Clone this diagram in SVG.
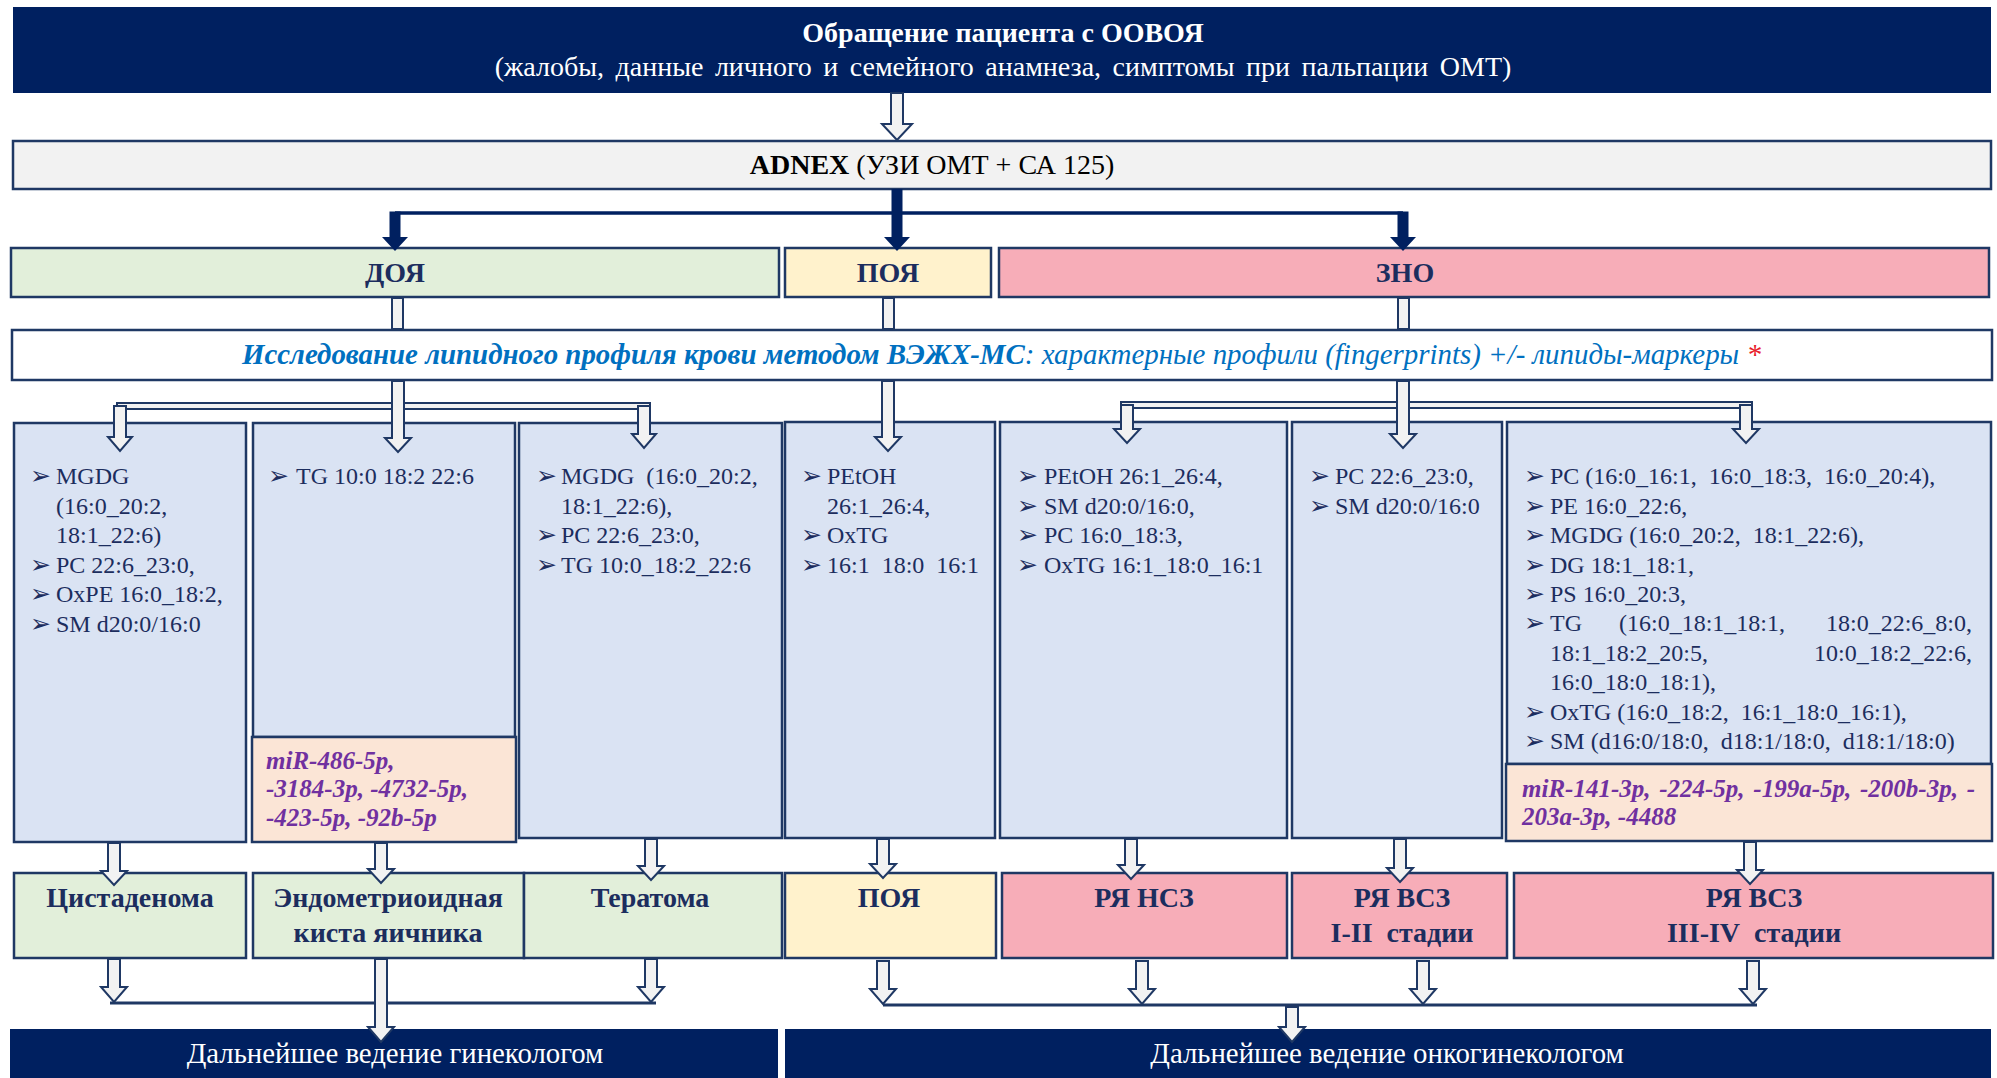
<svg xmlns="http://www.w3.org/2000/svg" width="1997" height="1078" viewBox="0 0 1997 1078">
<style>
text{font-family:"Liberation Serif","Times New Roman",serif;}
.navy{fill:#002060;}
.bx{stroke:#1f3864;stroke-width:2.5;}
.blue{fill:#dae3f3;}
.green{fill:#e2efda;}
.yellow{fill:#fff2cc;}
.pink{fill:#f7adb8;}
.peach{fill:#fbe5d6;}
.grey{fill:#f2f2f2;}
.white{fill:#ffffff;}
.t28w{font-size:28.8px;fill:#ffffff;}
.hd{font-size:28px;font-weight:bold;fill:#1c2d5e;text-anchor:middle;}
.lp{font-size:24px;fill:#1c2d5e;}
.bul{font-family:"DejaVu Sans",sans-serif;font-size:25px;fill:#1c2d5e;}
.mir{font-size:25px;font-weight:bold;font-style:italic;fill:#7030a0;}
.hol{fill:#f2f2f2;stroke:#1f3864;stroke-width:2;stroke-linejoin:miter;}
.ln{stroke:#1f3864;stroke-width:3;fill:none;}
</style>

<g id="start">
<rect x="13" y="7" width="1978" height="86" class="navy"/>
<text x="1003" y="42" font-size="28" fill="#ffffff" font-weight="bold" text-anchor="middle">Обращение пациента с ООВОЯ</text>
<text x="1003" y="76" font-size="28" fill="#ffffff" text-anchor="middle" word-spacing="4.5">(жалобы, данные личного и семейного анамнеза, симптомы при пальпации ОМТ)</text>
</g>

<g id="adnex">
<rect x="13" y="141" width="1978" height="48" class="grey bx"/>
<text x="932" y="174" font-size="28" fill="#000" text-anchor="middle"><tspan font-weight="bold">ADNEX</tspan> (УЗИ ОМТ + СА 125)</text>
</g>

<g id="doya">
<rect x="11" y="248" width="768" height="49" class="green bx"/>
<text x="395" y="282" class="hd">ДОЯ</text>
</g>
<g id="poya">
<rect x="785" y="248" width="206" height="49" class="yellow bx"/>
<text x="888" y="282" class="hd">ПОЯ</text>
</g>
<g id="zno">
<rect x="999" y="248" width="990" height="49" class="pink bx"/>
<text x="1405" y="282" class="hd">ЗНО</text>
</g>

<g id="lipid">
<rect x="12" y="330" width="1980" height="50" class="white bx"/>
<text x="242" y="364" font-size="28.9" font-style="italic" fill="#0070c0"><tspan font-weight="bold">Исследование липидного профиля крови методом ВЭЖХ-МС</tspan>: характерные профили (fingerprints) +/- липиды-маркеры <tspan fill="#e8202a">*</tspan></text>
</g>

<g id="colA">
<rect x="14" y="423" width="232" height="419" class="blue bx"/>
<text class="bul" x="30" y="484">➢</text><text class="lp" x="56" y="484">MGDG</text>
<text class="lp" x="56" y="513.5">(16:0_20:2,</text>
<text class="lp" x="56" y="543">18:1_22:6)</text>
<text class="bul" x="30" y="573">➢</text><text class="lp" x="56" y="573">PC 22:6_23:0,</text>
<text class="bul" x="30" y="602">➢</text><text class="lp" x="56" y="602">OxPE 16:0_18:2,</text>
<text class="bul" x="30" y="632">➢</text><text class="lp" x="56" y="632">SM d20:0/16:0</text>
</g>

<g id="colB">
<rect x="253" y="423" width="262" height="314" class="blue bx"/>
<text class="bul" x="268" y="484">➢</text><text class="lp" x="296" y="484">TG 10:0 18:2 22:6</text>
<rect x="252" y="737" width="264" height="105" class="peach bx"/>
<text class="mir" x="266" y="769">miR-486-5p,</text>
<text class="mir" x="266" y="797">-3184-3p, -4732-5p,</text>
<text class="mir" x="266" y="826">-423-5p, -92b-5p</text>
</g>

<g id="colC">
<rect x="519" y="423" width="263" height="415" class="blue bx"/>
<text class="bul" x="536" y="484">➢</text><text class="lp" x="561" y="484">MGDG&#160; (16:0_20:2,</text>
<text class="lp" x="561" y="513.5">18:1_22:6),</text>
<text class="bul" x="536" y="543">➢</text><text class="lp" x="561" y="543">PC 22:6_23:0,</text>
<text class="bul" x="536" y="573">➢</text><text class="lp" x="561" y="573">TG 10:0_18:2_22:6</text>
</g>

<g id="colD">
<rect x="785" y="422" width="210" height="416" class="blue bx"/>
<text class="bul" x="801" y="484">➢</text><text class="lp" x="827" y="484">PEtOH</text>
<text class="lp" x="827" y="513.5">26:1_26:4,</text>
<text class="bul" x="801" y="543">➢</text><text class="lp" x="827" y="543">OxTG</text>
<text class="bul" x="801" y="573">➢</text><text class="lp" x="827" y="573">16:1&#160; 18:0&#160; 16:1</text>
</g>

<g id="colE">
<rect x="1000" y="422" width="287" height="416" class="blue bx"/>
<text class="bul" x="1017" y="484">➢</text><text class="lp" x="1044" y="484">PEtOH 26:1_26:4,</text>
<text class="bul" x="1017" y="513.5">➢</text><text class="lp" x="1044" y="513.5">SM d20:0/16:0,</text>
<text class="bul" x="1017" y="543">➢</text><text class="lp" x="1044" y="543">PC 16:0_18:3,</text>
<text class="bul" x="1017" y="573">➢</text><text class="lp" x="1044" y="573">OxTG 16:1_18:0_16:1</text>
</g>

<g id="colF">
<rect x="1292" y="422" width="210" height="416" class="blue bx"/>
<text class="bul" x="1309" y="484">➢</text><text class="lp" x="1335" y="484">PC 22:6_23:0,</text>
<text class="bul" x="1309" y="513.5">➢</text><text class="lp" x="1335" y="513.5">SM d20:0/16:0</text>
</g>

<g id="colG">
<rect x="1507" y="422" width="484" height="342" class="blue bx"/>
<text class="bul" x="1524" y="484">➢</text><text class="lp" x="1550" y="484">PC (16:0_16:1,&#160; 16:0_18:3,&#160; 16:0_20:4),</text>
<text class="bul" x="1524" y="513.5">➢</text><text class="lp" x="1550" y="513.5">PE 16:0_22:6,</text>
<text class="bul" x="1524" y="543">➢</text><text class="lp" x="1550" y="543">MGDG (16:0_20:2,&#160; 18:1_22:6),</text>
<text class="bul" x="1524" y="573">➢</text><text class="lp" x="1550" y="573">DG 18:1_18:1,</text>
<text class="bul" x="1524" y="602">➢</text><text class="lp" x="1550" y="602">PS 16:0_20:3,</text>
<text class="bul" x="1524" y="631">➢</text><text class="lp" y="631"><tspan x="1550">TG</tspan><tspan x="1619">(16:0_18:1_18:1,</tspan><tspan x="1826">18:0_22:6_8:0,</tspan></text>
<text class="lp" y="661"><tspan x="1550">18:1_18:2_20:5,</tspan><tspan x="1814">10:0_18:2_22:6,</tspan></text>
<text class="lp" x="1550" y="690">16:0_18:0_18:1),</text>
<text class="bul" x="1524" y="720">➢</text><text class="lp" x="1550" y="720">OxTG (16:0_18:2,&#160; 16:1_18:0_16:1),</text>
<text class="bul" x="1524" y="749">➢</text><text class="lp" x="1550" y="749">SM (d16:0/18:0,&#160; d18:1/18:0,&#160; d18:1/18:0)</text>
<rect x="1506" y="764" width="486" height="77" class="peach bx"/>
<text class="mir" x="1522" y="797" word-spacing="2.5">miR-141-3p, -224-5p, -199a-5p, -200b-3p, -</text>
<text class="mir" x="1522" y="825">203a-3p, -4488</text>
</g>

<g id="cyst">
<rect x="14" y="873" width="232" height="85" class="green bx"/>
<text x="130" y="907" class="hd">Цистаденома</text>
</g>
<g id="endo">
<rect x="253" y="873" width="271" height="85" class="green bx"/>
<text x="388" y="907" class="hd">Эндометриоидная</text>
<text x="388" y="942" class="hd">киста яичника</text>
</g>
<g id="terat">
<rect x="524" y="873" width="258" height="85" class="green bx"/>
<text x="650" y="907" class="hd">Тератома</text>
</g>
<g id="poya2">
<rect x="785" y="873" width="211" height="85" class="yellow bx"/>
<text x="889" y="907" class="hd">ПОЯ</text>
</g>
<g id="rnsz">
<rect x="1002" y="873" width="285" height="85" class="pink bx"/>
<text x="1144" y="907" class="hd">РЯ НСЗ</text>
</g>
<g id="rvsz12">
<rect x="1292" y="873" width="215" height="85" class="pink bx"/>
<text x="1402" y="907" class="hd">РЯ ВСЗ</text>
<text x="1402" y="942" class="hd">I-II&#160; стадии</text>
</g>
<g id="rvsz34">
<rect x="1514" y="873" width="479" height="85" class="pink bx"/>
<text x="1754" y="907" class="hd">РЯ ВСЗ</text>
<text x="1754" y="942" class="hd">III-IV&#160; стадии</text>
</g>

<g id="gyn">
<rect x="10" y="1029" width="768" height="49" class="navy"/>
<text x="395" y="1063" class="t28w" text-anchor="middle">Дальнейшее ведение гинекологом</text>
</g>
<g id="onco">
<rect x="785" y="1029" width="1206" height="49" class="navy"/>
<text x="1387" y="1063" class="t28w" text-anchor="middle">Дальнейшее ведение онкогинекологом</text>
</g>

<g id="connectors">
<path class="hol" d="M891 93 L903 93 L903 124 L912 124 L897 140 L882 124 L891 124 Z"/>
<line x1="395" y1="213" x2="1403" y2="213" stroke="#002060" stroke-width="3.5"/>
<rect x="891.5" y="189" width="11" height="50" fill="#002060"/>
<path d="M884 237 L910 237 L897 251 Z" fill="#002060"/>
<rect x="389.5" y="211.5" width="11" height="27" fill="#002060"/>
<path d="M382 237 L408 237 L395 251 Z" fill="#002060"/>
<rect x="1397.5" y="211.5" width="11" height="27" fill="#002060"/>
<path d="M1390 237 L1416 237 L1403 251 Z" fill="#002060"/>
<rect class="hol" x="392" y="298" width="11" height="31"/>
<rect class="hol" x="883" y="298" width="11" height="31"/>
<rect class="hol" x="1398" y="298" width="11" height="31"/>
<path class="hol" d="M117 403 L650 403 L650 409 L117 409 Z"/>
<path class="hol" d="M1121 402 L1752 402 L1752 408 L1121 408 Z"/>
<path class="hol" d="M114 406 L126 406 L126 437 L132 437 L120 451 L108 437 L114 437 Z"/>
<path class="hol" d="M638 406 L650 406 L650 434 L656 434 L644 448 L632 434 L638 434 Z"/>
<path class="hol" d="M392 381 L404 381 L404 438 L411 438 L398 452 L385 438 L392 438 Z"/>
<path class="hol" d="M882 381 L894 381 L894 437 L901 437 L888 451 L875 437 L882 437 Z"/>
<path class="hol" d="M1397 381 L1409 381 L1409 434 L1416 434 L1403 448 L1390 434 L1397 434 Z"/>
<path class="hol" d="M1121 405 L1133 405 L1133 429 L1140 429 L1127 443 L1114 429 L1121 429 Z"/>
<path class="hol" d="M1740 405 L1752 405 L1752 429 L1759 429 L1746 443 L1733 429 L1740 429 Z"/>
<path class="hol" d="M108 843 L120 843 L120 871 L127 871 L114 885 L101 871 L108 871 Z"/>
<path class="hol" d="M375 843 L387 843 L387 869 L394 869 L381 883 L368 869 L375 869 Z"/>
<path class="hol" d="M645 839 L657 839 L657 866 L664 866 L651 880 L638 866 L645 866 Z"/>
<path class="hol" d="M877 839 L889 839 L889 864 L896 864 L883 878 L870 864 L877 864 Z"/>
<path class="hol" d="M1125 839 L1137 839 L1137 865 L1144 865 L1131 879 L1118 865 L1125 865 Z"/>
<path class="hol" d="M1394 839 L1406 839 L1406 868 L1413 868 L1400 882 L1387 868 L1394 868 Z"/>
<path class="hol" d="M1744 842 L1756 842 L1756 870 L1763 870 L1750 884 L1737 870 L1744 870 Z"/>
<line class="ln" x1="110" y1="1003" x2="656" y2="1003"/>
<path class="hol" d="M108 959 L120 959 L120 987 L127 987 L114 1002 L101 987 L108 987 Z"/>
<path class="hol" d="M645 959 L657 959 L657 987 L664 987 L651 1002 L638 987 L645 987 Z"/>
<path class="hol" d="M375 959 L387 959 L387 1027 L394 1027 L381 1042 L368 1027 L375 1027 Z"/>
<line class="ln" x1="883" y1="1005" x2="1757" y2="1005"/>
<path class="hol" d="M877 961 L889 961 L889 989 L896 989 L883 1004 L870 989 L877 989 Z"/>
<path class="hol" d="M1136 961 L1148 961 L1148 989 L1155 989 L1142 1004 L1129 989 L1136 989 Z"/>
<path class="hol" d="M1417 961 L1429 961 L1429 989 L1436 989 L1423 1004 L1410 989 L1417 989 Z"/>
<path class="hol" d="M1747 961 L1759 961 L1759 989 L1766 989 L1753 1004 L1740 989 L1747 989 Z"/>
<path class="hol" d="M1286 1007 L1298 1007 L1298 1027 L1305 1027 L1292 1042 L1279 1027 L1286 1027 Z"/>
</g>
</svg>
